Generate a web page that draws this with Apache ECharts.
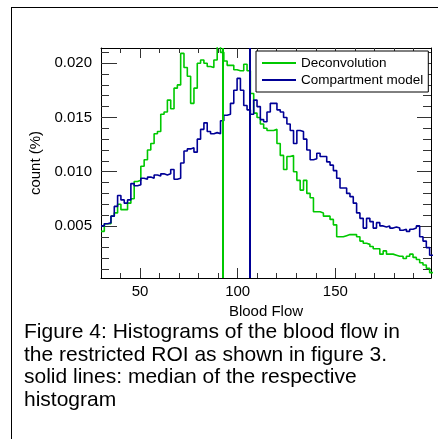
<!DOCTYPE html>
<html>
<head>
<meta charset="utf-8">
<script src="https://cdn.jsdelivr.net/npm/echarts@6/dist/echarts.min.js"></script>
<style>
html,body{margin:0;padding:0;background:#fff;}
#wrap{position:relative;width:438px;height:439px;overflow:hidden;}
#frame{position:absolute;left:11px;top:7px;width:500px;height:500px;border-left:1px solid #000;border-top:1px solid #000;}
#main{position:absolute;left:0;top:0;width:438px;height:439px;}
</style>
</head>
<body>
<div id="wrap"><div id="frame"></div><div id="main"></div></div>
<script>
// Histogram bins
const binStart = 30;
const binWidth = 1.7;
const deconvolution = [
0.0045,0.0052,0.0052,0.0059,0.0062,0.0070,0.0065,0.0065,0.0071,0.0075,
0.0091,0.0092,0.0105,0.0111,0.0120,0.0126,0.0135,0.0137,0.0153,0.0155,
0.0166,0.0158,0.0177,0.0180,0.0209,0.0196,0.0188,0.0163,0.0177,0.0200,
0.0203,0.0200,0.0197,0.0196,0.0203,0.0217,0.0210,0.0202,0.0198,0.0198,
0.0194,0.0193,0.0193,0.0199,0.0193,0.0172,0.0154,0.0150,0.0144,0.0140,
0.0138,0.0138,0.0139,0.0126,0.0115,0.0102,0.0114,0.0115,0.0100,0.0092,
0.0083,0.0092,0.0080,0.0076,0.0063,0.0063,0.0062,0.0059,0.0059,0.0056,
0.0051,0.0040,0.0040,0.0041,0.0042,0.0042,0.0042,0.0040,0.0036,0.0034,
0.0033,0.0031,0.0029,0.0029,0.0024,0.0027,0.0024,0.0024,0.0023,0.0022,
0.0022,0.0020,0.0022,0.0024,0.0021,0.0019,0.0016,0.0014,0.0011,0.0007
];
const compartment = [
0.0050,0.0052,0.0053,0.0059,0.0068,0.0078,0.0074,0.0071,0.0074,0.0089,
0.0087,0.0088,0.0094,0.0093,0.0095,0.0094,0.0097,0.0096,0.0098,0.0097,
0.0098,0.0102,0.0093,0.0094,0.0108,0.0119,0.0121,0.0122,0.0118,0.0130,
0.0139,0.0145,0.0137,0.0135,0.0136,0.0135,0.0147,0.0152,0.0153,0.0163,
0.0175,0.0186,0.0175,0.0161,0.0157,0.0153,0.0166,0.0160,0.0148,0.0146,
0.0155,0.0163,0.0163,0.0157,0.0155,0.0150,0.0144,0.0138,0.0126,0.0138,
0.0137,0.0130,0.0120,0.0111,0.0112,0.0117,0.0114,0.0114,0.0109,0.0106,
0.0101,0.0094,0.0085,0.0085,0.0080,0.0077,0.0071,0.0062,0.0057,0.0048,
0.0057,0.0054,0.0048,0.0053,0.0050,0.0049,0.0050,0.0048,0.0049,0.0048,
0.0046,0.0047,0.0045,0.0047,0.0048,0.0050,0.0040,0.0036,0.0030,0.0023
];
const medianDeconvolution = 92.1;
const medianCompartment = 106.3;
const xMajorTicks = [50, 100, 150];
const xMinorTicks = [40, 60, 70, 80, 90, 110, 120, 130, 140, 160, 170, 180, 190];
const yMajorTicks = [0.005, 0.010, 0.015, 0.020];
const yMinorTicks = [0.001, 0.002, 0.003, 0.004, 0.006, 0.007, 0.008, 0.009, 0.011, 0.012, 0.013, 0.014, 0.016, 0.017, 0.018, 0.019, 0.021];
const seriesNames = ['Deconvolution', 'Compartment model'];
const caption = 'Figure 4: Histograms of the blood flow in\nthe restricted ROI as shown in figure 3.\nsolid lines: median of the respective\nhistogram';

const X_MIN = 30, X_MAX = 199, Y_MIN = 0.0002, Y_MAX = 0.0214;
const GREEN = '#00c800', BLUE = '#000096';
const FONT = 'Liberation Sans, Arial, Helvetica, sans-serif';

function toSteps(vals) {
  const pts = vals.map((v, i) => [binStart + i * binWidth, v]);
  pts.push([binStart + vals.length * binWidth, vals[vals.length - 1]]);
  return pts;
}

function xAx(pos, ticks, len, withLabel, showLine) {
  return {
    type: 'value', position: pos, min: X_MIN, max: X_MAX,
    axisLine: { show: showLine, onZero: false, lineStyle: { color: '#000', width: 1 } },
    axisTick: { show: true, inside: true, length: len, customValues: ticks, lineStyle: { color: '#333', width: 1 } },
    axisLabel: withLabel ? { show: true, customValues: xMajorTicks, margin: 6, color: '#000', fontSize: 15, fontFamily: FONT } : { show: false },
    splitLine: { show: false },
    name: withLabel ? 'Blood Flow' : '',
    nameLocation: 'middle', nameGap: 23,
    nameTextStyle: { color: '#000', fontSize: 15, fontFamily: FONT }
  };
}
function yAx(pos, ticks, len, withLabel, showLine) {
  return {
    type: 'value', position: pos, min: Y_MIN, max: Y_MAX,
    axisLine: { show: showLine, onZero: false, lineStyle: { color: '#000', width: 1 } },
    axisTick: { show: true, inside: true, length: len, customValues: ticks, lineStyle: { color: '#333', width: 1 } },
    axisLabel: withLabel ? { show: true, customValues: yMajorTicks, margin: 9, color: '#000', fontSize: 15, fontFamily: FONT, formatter: v => v.toFixed(3) } : { show: false },
    splitLine: { show: false },
    name: withLabel ? 'count (%)' : '',
    nameLocation: 'middle', nameGap: 55,
    nameTextStyle: { color: '#000', fontSize: 15, fontFamily: FONT }
  };
}

const chart = echarts.init(document.getElementById('main'), null, { renderer: 'canvas' });
chart.setOption({
  animation: false,
  backgroundColor: 'transparent',
  title: {
    text: caption, left: 24, top: 321, padding: 0,
    textStyle: { color: '#000', fontSize: 21, fontWeight: 'normal', fontFamily: FONT, lineHeight: 22.5 }
  },
  grid: { left: 101, right: 7, top: 48, bottom: 161, containLabel: false },
  legend: {
    orient: 'vertical', left: 256, top: 51,
    backgroundColor: '#fff', borderColor: '#000', borderWidth: 1, borderRadius: 0,
    padding: [5, 5, 5, 5], itemGap: 3, itemWidth: 34, itemHeight: 14,
    itemStyle: { opacity: 0, borderWidth: 0 },
    lineStyle: { width: 2 },
    textStyle: { color: '#000', fontSize: 13.5, fontFamily: FONT },
    data: seriesNames
  },
  xAxis: [
    xAx('bottom', xMajorTicks, 10, true, true),
    xAx('bottom', xMinorTicks, 5, false, false),
    xAx('top', xMajorTicks, 10, false, true),
    xAx('top', xMinorTicks, 5, false, false)
  ],
  yAxis: [
    yAx('left', yMajorTicks, 16, true, true),
    yAx('left', yMinorTicks, 8, false, false),
    yAx('right', yMajorTicks, 14, false, true),
    yAx('right', yMinorTicks, 8, false, false)
  ],
  series: [
    {
      name: seriesNames[0], type: 'line', step: 'end', symbol: 'none',
      xAxisIndex: 0, yAxisIndex: 0, clip: true,
      lineStyle: { color: GREEN, width: 1.6 }, itemStyle: { color: GREEN },
      data: toSteps(deconvolution),
      markLine: { silent: true, symbol: ['none', 'none'], label: { show: false },
        lineStyle: { color: GREEN, width: 2, type: 'solid' }, data: [{ xAxis: medianDeconvolution }] },
      z: 2
    },
    {
      name: seriesNames[1], type: 'line', step: 'end', symbol: 'none',
      xAxisIndex: 0, yAxisIndex: 0, clip: true,
      lineStyle: { color: BLUE, width: 1.6 }, itemStyle: { color: BLUE },
      data: toSteps(compartment),
      markLine: { silent: true, symbol: ['none', 'none'], label: { show: false },
        lineStyle: { color: BLUE, width: 2, type: 'solid' }, data: [{ xAxis: medianCompartment }] },
      z: 3
    }
  ]
});
</script>
</body>
</html>
